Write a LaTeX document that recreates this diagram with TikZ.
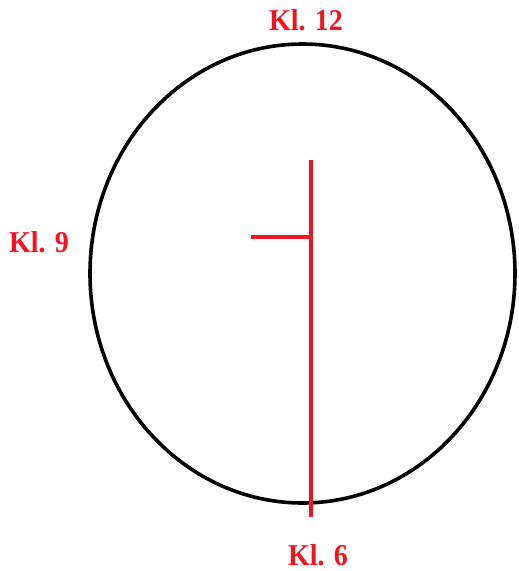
\documentclass[tikz,border=0pt]{standalone}
\usepackage{fontspec}
\setmainfont{Liberation Serif}
\definecolor{clockred}{RGB}{240,20,30}
\begin{document}
\begin{tikzpicture}[x=1pt,y=-1pt,
  rim/.style={draw=black,line width=3.6pt},
  hand/.style={draw=clockred,line width=4pt},
  lbl/.style={text=clockred,font=\fontsize{28}{30}\selectfont\bfseries,inner sep=0pt,yscale=1.08}]
\useasboundingbox (0,0) rectangle (519,571);
\draw[rim] (302.5,273.5) ellipse [x radius=212.5, y radius=229.5];
\coordinate (top) at (311,160);
\coordinate (bot) at (311,517);
\coordinate (joint) at (311,237);
\coordinate (left) at (251,237);
\draw[hand] (top) -- (bot);
\draw[hand] (left) -- (joint);
\node[lbl] (k12) at (306,20) {Kl. 12};
\node[lbl] (k9) at (39,242) {Kl. 9};
\node[lbl] (k6) at (318,555) {Kl. 6};
\end{tikzpicture}
\end{document}
